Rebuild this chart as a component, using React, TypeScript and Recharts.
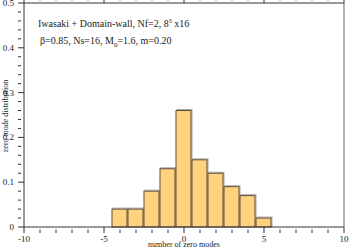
import { BarChart, Bar, XAxis, YAxis } from 'recharts'

// zero mode histogram
const modes = [-4, -3, -2, -1, 0, 1, 2, 3, 4, 5]
const distribution = [0.04, 0.04, 0.08, 0.13, 0.26, 0.15, 0.12, 0.09, 0.07, 0.02]

const xTicks = [-10, -9, -8, -7, -6, -5, -4, -3, -2, -1, 0, 1, 2, 3, 4, 5, 6, 7, 8, 9, 10]
const yTicks = [
  0, 0.02, 0.04, 0.06, 0.08, 0.1, 0.12, 0.14, 0.16, 0.18, 0.2, 0.22, 0.24, 0.26, 0.28, 0.3,
  0.32, 0.34, 0.36, 0.38, 0.4, 0.42, 0.44, 0.46, 0.48, 0.5,
]

const data = modes.map((m, i) => ({ mode: m, value: distribution[i] }))

const FONT = '"Liberation Serif", "Times New Roman", serif'
const AXIS = '#333'

const isMajorX = (v: number) => v % 5 === 0
const isMajorY = (v: number) => Math.abs(v * 10 - Math.round(v * 10)) < 1e-6

const BottomTick = (props: any) => {
  const { x, y, payload } = props
  const major = isMajorX(payload.value)
  return (
    <g>
      <line x1={x} y1={y} x2={x} y2={y - (major ? 6 : 3.5)} stroke={AXIS} />
      {major && (
        <text x={x} y={y + 8.5} textAnchor="middle" fontFamily={FONT} fontSize={9} fill="#222">
          {payload.value}
        </text>
      )}
    </g>
  )
}

const TopTick = (props: any) => {
  const { x, y, payload } = props
  const major = isMajorX(payload.value)
  return <line x1={x} y1={y} x2={x} y2={y + (major ? 6 : 3.5)} stroke={AXIS} />
}

const LeftTick = (props: any) => {
  const { x, y, payload } = props
  const major = isMajorY(payload.value)
  return (
    <g>
      <line x1={x} y1={y} x2={x + (major ? 6 : 3)} y2={y} stroke={AXIS} />
      {major && (
        <text x={x - 4} y={y + 3} textAnchor="end" fontFamily={FONT} fontSize={9} fill="#222">
          {payload.value === 0 ? '0' : payload.value.toFixed(1)}
        </text>
      )}
    </g>
  )
}

const RightTick = (props: any) => {
  const { x, y, payload } = props
  const major = isMajorY(payload.value)
  return <line x1={x} y1={y} x2={x - (major ? 6 : 3)} y2={y} stroke={AXIS} />
}

const ShadowBar = (props: any) => {
  const { x, y, width, height } = props
  return (
    <g>
      <rect x={x + 1} y={y - 1} width={width} height={height} fill="none" stroke="#aaa" />
      <rect x={x} y={y} width={width} height={height} fill="#FFD27F" stroke="#5a4c36" />
    </g>
  )
}

export default function App() {
  return (
    <div style={{ position: 'relative', width: 349, height: 247, background: '#fff' }}>
      <style>{'body{margin:0}'}</style>
      <BarChart width={349} height={247} data={data} margin={{ top: 0, right: 0, bottom: 0, left: 0 }}>
        <XAxis
          dataKey="mode"
          type="number"
          domain={[-10, 10]}
          ticks={xTicks}
          interval={0}
          height={20}
          tickLine={false}
          tickMargin={0}
          tick={<BottomTick />}
          axisLine={{ stroke: AXIS }}
        />
        <XAxis
          xAxisId="top"
          orientation="top"
          dataKey="mode"
          type="number"
          domain={[-10, 10]}
          ticks={xTicks}
          interval={0}
          height={3}
          tickLine={false}
          tickMargin={0}
          tick={<TopTick />}
          axisLine={{ stroke: AXIS }}
        />
        <YAxis
          type="number"
          domain={[0, 0.5]}
          ticks={yTicks}
          interval={0}
          width={24}
          tickLine={false}
          tickMargin={0}
          tick={<LeftTick />}
          axisLine={{ stroke: AXIS }}
        />
        <YAxis
          yAxisId="right"
          orientation="right"
          type="number"
          domain={[0, 0.5]}
          ticks={yTicks}
          interval={0}
          width={5}
          tickLine={false}
          tickMargin={0}
          tick={<RightTick />}
          axisLine={{ stroke: '#666' }}
        />
        <Bar dataKey="value" barSize={15} shape={<ShadowBar />} isAnimationActive={false} />
      </BarChart>
      <svg
        width={349}
        height={247}
        style={{ position: 'absolute', left: 0, top: 0, pointerEvents: 'none' }}
      >
        <text x={38} y={27} fontFamily={FONT} fontSize={10} fill="#222">
          Iwasaki + Domain-wall, Nf=2, 8
          <tspan dy={-4} fontSize={6}>3</tspan>
          <tspan dy={4}> x16</tspan>
        </text>
        <text x={40} y={44} fontFamily={FONT} fontSize={10} fill="#222">
          β=0.85, Ns=16, M
          <tspan dy={3} fontSize={7}>0</tspan>
          <tspan dy={-3}>=1.6, m=0.20</tspan>
        </text>
        <text x={184} y={246.5} textAnchor="middle" fontFamily={FONT} fontSize={8} fill="#222">
          number of zero modes
        </text>
        <text
          x={8}
          y={116}
          transform="rotate(-90, 8, 116)"
          textAnchor="middle"
          fontFamily={FONT}
          fontSize={8}
          fill="#222"
        >
          zero mode distribution
        </text>
      </svg>
    </div>
  )
}
